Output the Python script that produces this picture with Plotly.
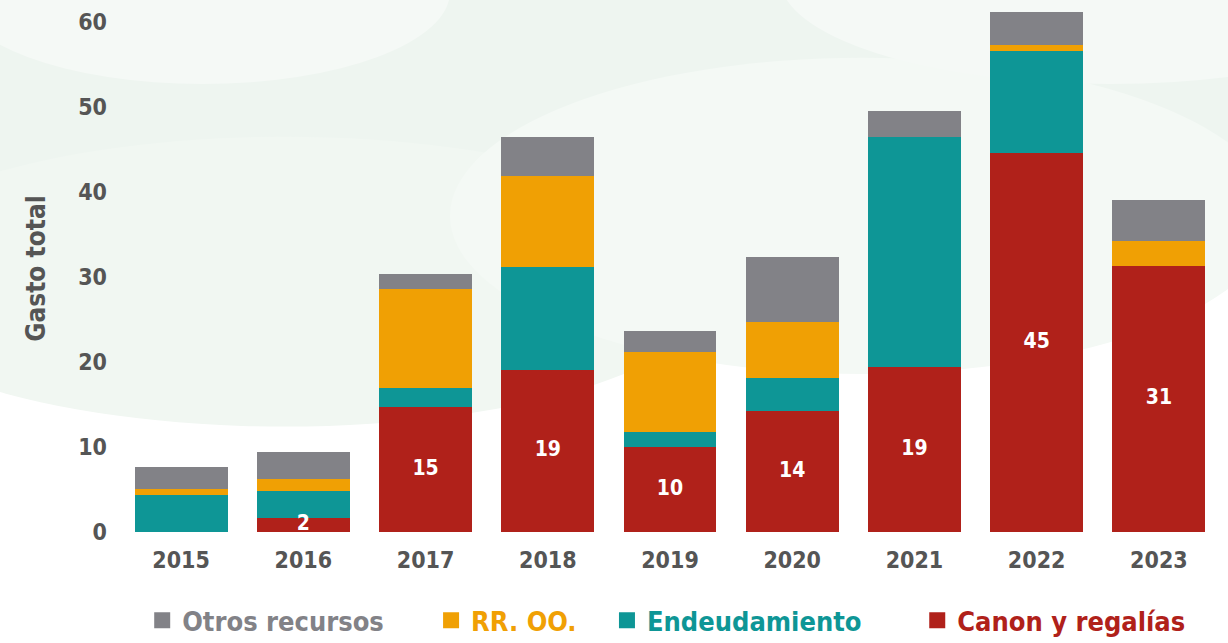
import plotly.graph_objects as go

years = ["2015", "2016", "2017", "2018", "2019", "2020", "2021", "2022", "2023"]
canon = [0.0, 1.6, 14.7, 19.1, 10.0, 14.2, 19.4, 44.6, 31.3]
endeudamiento = [4.4, 3.2, 2.2, 12.1, 1.8, 3.9, 27.1, 12.0, 0.0]
rroo = [0.7, 1.4, 11.7, 10.7, 9.4, 6.6, 0.0, 0.7, 2.9]
otros = [2.6, 3.2, 1.8, 4.6, 2.4, 7.7, 3.0, 3.9, 4.9]

FONT = "DejaVu Sans Condensed"
GRAY, ORANGE, TEAL, RED = "#828287", "#F0A004", "#0E9696", "#B0211A"
TXT = "#555555"

series = [
    ("Canon y regalías", canon, RED),
    ("Endeudamiento", endeudamiento, TEAL),
    ("RR. OO.", rroo, ORANGE),
    ("Otros recursos", otros, GRAY),
]

fig = go.Figure()
for name, vals, col in series:
    fig.add_trace(go.Bar(x=years, y=vals, name=name, marker=dict(color=col, line_width=0),
                         showlegend=False))

# value labels on the red segments (drawn on top of all bars)
canon_text = [f"{v:.0f}" if v >= 1 else "" for v in canon]
fig.add_trace(go.Scatter(x=years, y=[v / 2 for v in canon], mode="text", text=canon_text,
                         textposition="middle center", showlegend=False, hoverinfo="skip",
                         textfont=dict(family=FONT, size=21, color="white", weight="bold")))

# legend entries (larger square swatches)
pads = {"Otros recursos": 5, "RR. OO.": 3, "Endeudamiento": 6, "Canon y regalías": 4}
for name, vals, col in reversed(series):
    fig.add_trace(go.Scatter(x=[None], y=[None], mode="markers",
                             name=f"<span style='color:{col}'>{name}</span>" + "\u00a0" * pads[name],
                             marker=dict(symbol="square", size=23, color=col), showlegend=True))

shapes = [
    dict(type="rect", xref="paper", yref="paper", x0=-0.2, x1=1.1, y0=0.55, y1=1.05,
         fillcolor="#EEF5F0", line_width=0, layer="below"),
    dict(type="circle", xref="paper", yref="paper", x0=-0.25, x1=0.55, y0=0.2, y1=0.75,
         fillcolor="#F1F7F2", line_width=0, layer="below"),
    dict(type="circle", xref="paper", yref="paper", x0=0.3, x1=1.05, y0=0.3, y1=0.9,
         fillcolor="#F4F9F5", line_width=0, layer="below"),
    dict(type="circle", xref="paper", yref="paper", x0=-0.15, x1=0.3, y0=0.85, y1=1.2,
         fillcolor="#F5F9F6", line_width=0, layer="below"),
    dict(type="circle", xref="paper", yref="paper", x0=0.6, x1=1.2, y0=0.85, y1=1.25,
         fillcolor="#F5F9F6", line_width=0, layer="below"),
]

fig.update_layout(
    width=1228, height=643,
    barmode="stack", bargap=0.24,
    paper_bgcolor="white", plot_bgcolor="rgba(0,0,0,0)",
    margin=dict(l=120, r=8, t=5, b=111, autoexpand=False),
    font=dict(family=FONT, color=TXT, size=22, weight="bold"),
    shapes=shapes,
    xaxis=dict(showgrid=False, showline=False, ticks="", automargin=False,
               tickfont=dict(size=23, color=TXT, weight="bold"), ticklabelstandoff=12),
    yaxis=dict(range=[0, 62], tickvals=[0, 10, 20, 30, 40, 50, 60], showgrid=False, zeroline=False,
               showline=False, automargin=False, tickfont=dict(size=23, color=TXT, weight="bold"),
               ticklabelstandoff=12,
               title=dict(text="Gasto total", font=dict(size=26, color=TXT, weight="bold"), standoff=25)),
    legend=dict(orientation="h", x=0.512, xanchor="center", y=-0.122, yanchor="top",
                traceorder="normal", itemwidth=30,
                font=dict(size=27, weight="bold")),
    showlegend=True,
)

fig.write_html("out.html", config={"displayModeBar": False},
               post_script="document.body.style.margin='0';document.body.style.padding='0';"
                           "document.body.style.overflow='hidden';")
